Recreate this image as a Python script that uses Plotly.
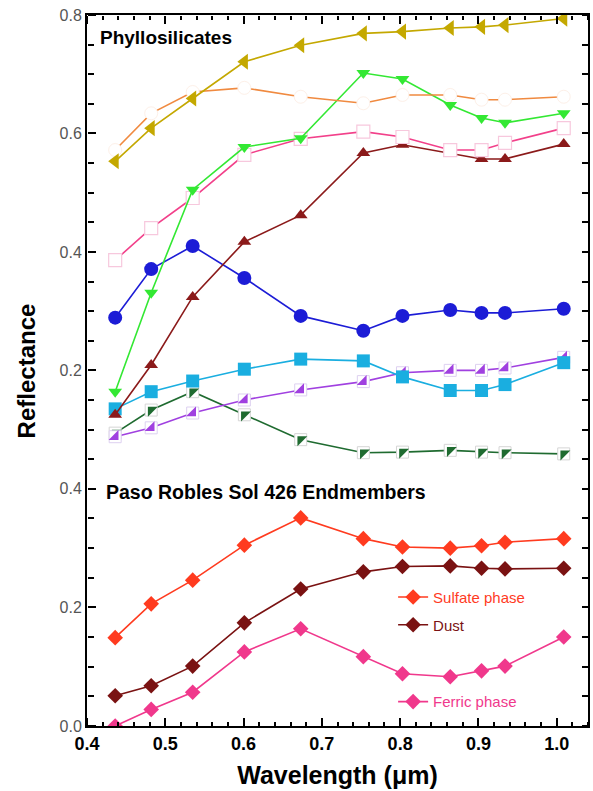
import plotly.graph_objects as go

# ---------------- data ----------------
wavelength = [0.436, 0.482, 0.535, 0.601, 0.673, 0.753, 0.803, 0.864, 0.904, 0.934, 1.009]

# Phyllosilicates (upper panel)
gold_tri = [0.553, 0.609, 0.659, 0.721, 0.749, 0.769, 0.772, 0.778, 0.780, 0.783, 0.794]
orange_open = [0.572, 0.634, 0.670, 0.677, 0.662, 0.651, 0.665, 0.665, 0.657, 0.657, 0.662]
green_down = [0.164, 0.331, 0.505, 0.577, 0.592, 0.702, 0.692, 0.648, 0.626, 0.618, 0.634]
pink_open = [0.386, 0.440, 0.491, 0.564, 0.591, 0.603, 0.594, 0.572, 0.572, 0.584, 0.609]
darkred_up = [0.125, 0.209, 0.324, 0.417, 0.462, 0.567, 0.581, 0.566, 0.557, 0.557, 0.582]
blue_circ = [0.289, 0.371, 0.410, 0.356, 0.292, 0.267, 0.292, 0.302, 0.297, 0.297, 0.304]
cyan_sq = [0.135, 0.164, 0.182, 0.202, 0.219, 0.216, 0.189, 0.166, 0.166, 0.176, 0.213]
purple_half = [0.088, 0.103, 0.128, 0.150, 0.167, 0.181, 0.196, 0.200, 0.200, 0.204, 0.222]
dkgreen_half = [0.094, 0.133, 0.164, 0.125, 0.083, 0.061, 0.062, 0.065, 0.062, 0.061, 0.059]

# Paso Robles Sol 426 endmembers (lower panel)
sulfate = [0.149, 0.206, 0.246, 0.305, 0.351, 0.316, 0.302, 0.300, 0.304, 0.310, 0.316]
dust = [0.051, 0.068, 0.101, 0.174, 0.231, 0.260, 0.269, 0.270, 0.266, 0.265, 0.266]
ferric = [0.000, 0.028, 0.057, 0.125, 0.164, 0.117, 0.088, 0.083, 0.093, 0.101, 0.150]

top_ticks = [0.2, 0.4, 0.6, 0.8]
top_tick_text = ["0.2", "0.4", "0.6", "0.8"]
bottom_ticks = [0.0, 0.2, 0.4]
bottom_tick_text = ["0.0", "0.2", "0.4"]

fig = go.Figure()

def top(y, color, symbol, size, mfill=None, mline=None, mlw=0, lw=1.6, mode="lines+markers"):
    fig.add_trace(go.Scatter(
        x=wavelength, y=y, mode=mode, xaxis="x2", yaxis="y2", showlegend=False,
        line=dict(color=color, width=lw),
        marker=dict(symbol=symbol, size=size, color=mfill if mfill else color,
                    line=dict(color=mline if mline else color, width=mlw)),
        hoverinfo="skip"))

# upper panel
top(dkgreen_half, "#1F6B30", "square", 12, mfill="white", mline="#d5d5d5", mlw=1)
top(dkgreen_half, "#1F6B30", "triangle-nw", 11, mode="markers")
top(purple_half, "#A040E0", "square", 12, mfill="white", mline="#ddd0f0", mlw=1)
top(purple_half, "#A040E0", "triangle-se", 11, mode="markers")
top(cyan_sq, "#1AAEE0", "square", 13)
top(blue_circ, "#1C1CD6", "circle", 14)
top(darkred_up, "#8B1A1A", "triangle-up", 12)
top(pink_open, "#F2408A", "square", 13, mfill="white", mline="#F7C8DD", mlw=1.2)
top(green_down, "#33E833", "triangle-down", 12)
top(orange_open, "#F08A40", "circle", 13, mfill="white", mline="#FDF0E8", mlw=1)
top(gold_tri, "#C4A800", "triangle-left", 14)

# lower panel
for name, y, color, leg in [("Sulfate phase", sulfate, "#FF3B1F", "legend"),
                            ("Dust", dust, "#7A1212", "legend2"),
                            ("Ferric phase", ferric, "#F0388C", "legend3")]:
    fig.add_trace(go.Scatter(
        x=wavelength, y=y, mode="lines+markers", name=name, legend=leg,
        xaxis="x", yaxis="y",
        line=dict(color=color, width=1.6),
        marker=dict(symbol="diamond", size=12, color=color),
        hoverinfo="skip"))

# empty traces that bind the inward-tick axes to their panels
for xa, ya in [("x3", "y3"), ("x3", "y4"), ("x4", "y5"), ("x4", "y6")]:
    fig.add_trace(go.Scatter(x=[], y=[], xaxis=xa, yaxis=ya, showlegend=False, hoverinfo="skip"))

X_RANGE = [0.4, 1.040]
BOTTOM_RANGE = [0.0, 0.425]
TOP_RANGE = [0.025, 0.8]
SPLIT = 0.3544

base = dict(showgrid=False, zeroline=False, automargin=False)
K = "#000000"

def x_ticker(over, pos, side):
    return dict(overlaying=over, anchor="free", position=pos, side=side,
                range=X_RANGE, tickmode="linear", tick0=0.4, dtick=0.1,
                ticks="outside", ticklen=8, tickwidth=2, tickcolor=K,
                minor=dict(tick0=0.4, dtick=0.02, ticks="outside", ticklen=4, tickwidth=1.5, tickcolor=K),
                showticklabels=False, showline=False, **base)

def y_ticker(over, rng, vals, pos, side, majlen):
    return dict(overlaying=over, anchor="free", position=pos, side=side,
                range=rng, tickmode="array", tickvals=vals,
                ticks="outside", ticklen=majlen, tickwidth=2, tickcolor=K,
                minor=dict(tick0=0, dtick=0.05, ticks="outside", ticklen=6, tickwidth=1.5, tickcolor=K),
                showticklabels=False, showline=False, **base)

fig.update_layout(
    template="none",
    width=593, height=791,
    margin=dict(l=87, r=5, t=15, b=65, autoexpand=False),
    paper_bgcolor="white", plot_bgcolor="rgba(0,0,0,0)",
    font=dict(family="Liberation Sans, Arial, sans-serif", color="black"),
    showlegend=True,
    xaxis=dict(
        domain=[0, 1], anchor="y", side="bottom",
        range=X_RANGE, tickmode="linear", tick0=0.4, dtick=0.1, tickformat=".1f", ticks="",
        tickfont=dict(size=18, color="black"), tickprefix="<b>", ticksuffix="</b>",
        title=dict(text="<b>Wavelength (μm)</b>", font=dict(size=25, color="black"), standoff=14),
        showline=True, linecolor=K, linewidth=2, **base,
    ),
    xaxis2=dict(
        domain=[0, 1], anchor="y2", side="top", range=X_RANGE, ticks="",
        showticklabels=False, showline=True, linecolor=K, linewidth=2, **base,
    ),
    xaxis3=x_ticker("x", 0, "top"),
    xaxis4=x_ticker("x2", 1, "bottom"),
    yaxis=dict(
        domain=[0, SPLIT], anchor="x",
        range=BOTTOM_RANGE, tickmode="array", tickvals=bottom_ticks, ticktext=bottom_tick_text,
        ticks="", mirror=True,
        tickfont=dict(size=16, color="#555555"), ticksuffix="    ",
        showline=True, linecolor=K, linewidth=2, **base,
    ),
    yaxis2=dict(
        domain=[SPLIT, 1], anchor="x2",
        range=TOP_RANGE, tickmode="array", tickvals=top_ticks, ticktext=top_tick_text,
        ticks="", mirror=True,
        tickfont=dict(size=16, color="#555555"), ticksuffix="    ",
        showline=True, linecolor=K, linewidth=2, **base,
    ),
    yaxis3=y_ticker("y", BOTTOM_RANGE, bottom_ticks, 0, "right", 8),
    yaxis4=y_ticker("y", BOTTOM_RANGE, bottom_ticks, 1, "left", 6),
    yaxis5=y_ticker("y2", TOP_RANGE, top_ticks, 0, "right", 8),
    yaxis6=y_ticker("y2", TOP_RANGE, top_ticks, 1, "left", 6),
    legend=dict(x=0.611, y=0.181, xanchor="left", yanchor="middle", bgcolor="rgba(0,0,0,0)",
                font=dict(size=15, color="#FF3B1F")),
    legend2=dict(x=0.611, y=0.142, xanchor="left", yanchor="middle", bgcolor="rgba(0,0,0,0)",
                 font=dict(size=15, color="#7A1212")),
    legend3=dict(x=0.611, y=0.034, xanchor="left", yanchor="middle", bgcolor="rgba(0,0,0,0)",
                 font=dict(size=15, color="#F0388C")),
    annotations=[
        dict(text="<b>Reflectance</b>", x=-0.12, y=0.5, xref="paper", yref="paper",
             xanchor="center", yanchor="middle", textangle=-90, showarrow=False,
             font=dict(size=24, color="black")),
        dict(text="<b>Phyllosilicates</b>", x=0.022, y=0.969, xref="paper", yref="paper",
             xanchor="left", yanchor="middle", showarrow=False, font=dict(size=19, color="black")),
        dict(text="<b>Paso Robles Sol 426 Endmembers</b>", x=0.034, y=0.329, xref="paper", yref="paper",
             xanchor="left", yanchor="middle", showarrow=False, font=dict(size=19.5, color="black")),
    ],
)

fig.write_html("out.html", config={"displayModeBar": False},
               post_script="document.body.style.margin='0';document.body.style.overflow='hidden';")
